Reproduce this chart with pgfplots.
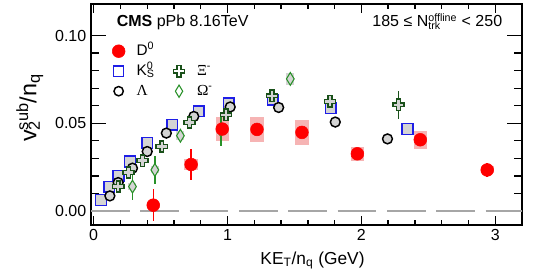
\documentclass[border=0pt]{standalone}
\usepackage{fontspec}
\setmainfont{Liberation Sans}
\newfontfamily\greekfont{Liberation Serif}
\usepackage{pgfplots}
\pgfplotsset{compat=1.18}

\definecolor{kblue}{RGB}{30,30,230}
\definecolor{xigreen}{RGB}{25,80,25}
\definecolor{omgreen}{RGB}{40,145,40}
\definecolor{sysgray}{RGB}{212,212,212}
\definecolor{dpink}{RGB}{246,180,180}

% open "plus" outline for the Xi points
\pgfdeclareplotmark{ocross}{%
  \pgfpathmoveto{\pgfqpoint{-0.34\pgfplotmarksize}{\pgfplotmarksize}}%
  \pgfpathlineto{\pgfqpoint{0.34\pgfplotmarksize}{\pgfplotmarksize}}%
  \pgfpathlineto{\pgfqpoint{0.34\pgfplotmarksize}{0.34\pgfplotmarksize}}%
  \pgfpathlineto{\pgfqpoint{\pgfplotmarksize}{0.34\pgfplotmarksize}}%
  \pgfpathlineto{\pgfqpoint{\pgfplotmarksize}{-0.34\pgfplotmarksize}}%
  \pgfpathlineto{\pgfqpoint{0.34\pgfplotmarksize}{-0.34\pgfplotmarksize}}%
  \pgfpathlineto{\pgfqpoint{0.34\pgfplotmarksize}{-\pgfplotmarksize}}%
  \pgfpathlineto{\pgfqpoint{-0.34\pgfplotmarksize}{-\pgfplotmarksize}}%
  \pgfpathlineto{\pgfqpoint{-0.34\pgfplotmarksize}{-0.34\pgfplotmarksize}}%
  \pgfpathlineto{\pgfqpoint{-\pgfplotmarksize}{-0.34\pgfplotmarksize}}%
  \pgfpathlineto{\pgfqpoint{-\pgfplotmarksize}{0.34\pgfplotmarksize}}%
  \pgfpathlineto{\pgfqpoint{-0.34\pgfplotmarksize}{0.34\pgfplotmarksize}}%
  \pgfpathclose\pgfusepathqfillstroke}

% x = KE_T/n_q, y = v2/n_q
\pgfplotstableread{
x y stat sys
0.445 0.0033 0.0090 0.0015
0.728 0.0265 0.0090 0.0030
0.960 0.0467 0.0020 0.0070
1.220 0.0465 0.0020 0.0070
1.556 0.0448 0.0020 0.0070
1.970 0.0326 0.0020 0.0040
2.440 0.0406 0.0020 0.0050
2.940 0.0234 0.0040 0.0020
}\dzero

\pgfplotstableread{
x y
0.054 0.0063
0.116 0.0139
0.185 0.0200
0.272 0.0282
0.400 0.0387
0.588 0.0491
0.785 0.0568
1.010 0.0615
1.337 0.0634
1.770 0.0587
2.345 0.0467
}\kshort

\pgfplotstableread{
x y
0.121 0.0086
0.183 0.0162
0.290 0.0244
0.400 0.0339
0.543 0.0444
0.748 0.0539
1.020 0.0593
1.382 0.0590
1.805 0.0507
2.195 0.0411
}\lambdatab

\pgfplotstableread{
x y stat
0.183 0.0139 0.001
0.260 0.0219 0.001
0.364 0.0287 0.001
0.509 0.0367 0.001
0.715 0.0505 0.001
0.989 0.0549 0.001
1.332 0.0657 0.001
1.765 0.0625 0.002
2.278 0.0606 0.008
}\xitab

\pgfplotstableread{
x y stat sys
0.290 0.0139 0.0075 0.0020
0.457 0.0234 0.0080 0.0020
0.648 0.0429 0.0020 0.0025
0.950 0.0460 0.0090 0.0025
1.469 0.0753 0.0020 0.0035
}\omegatab

\begin{document}
\begin{tikzpicture}
\useasboundingbox (-68.25pt,-38.25pt) rectangle (333pt,168.75pt);
\begin{axis}[
  scale only axis, width=323.25pt, height=165.75pt,
  at={(0pt,0pt)}, anchor=south west,
  xmin=-0.02, xmax=3.2, ymin=-0.008, ymax=0.118,
  xtick={0,1,2,3}, minor x tick num=4,
  ytick={0,0.05,0.1}, minor y tick num=4,
  yticklabel style={/pgf/number format/.cd, fixed, fixed zerofill, precision=2},
  /pgf/number format/assume math mode=true,
  tick align=inside, tick pos=both,
  major tick length=11pt, minor tick length=6pt,
  x tick style={/pgfplots/major tick length=7pt, /pgfplots/minor tick length=3.5pt},
  tick style={line width=1pt, black},
  axis line style={line width=1.2pt},
  tick label style={font=\fontsize{12}{14}\selectfont},
  xlabel={KE\textsubscript{T}/n\textsubscript{q} (GeV)},
  ylabel={v\rlap{\textsubscript{2}}\textsuperscript{sub}/n\textsubscript{q}},
  xlabel style={font=\fontsize{13}{15}\selectfont, xshift=4.5pt, yshift=-1pt},
  ylabel style={font=\fontsize{17.5}{19}\selectfont, at={(axis description cs:-0.142,0.53)}, anchor=center},
  legend columns=2,
  legend cell align=left,
  legend image code/.code={\path[draw=none, fill=none] (0pt,0pt) -- (20.5pt,0pt); \draw[#1] plot coordinates {(8.5pt,0pt)};},
  legend style={at={(rel axis cs:0.028,0.845)}, anchor=north west, draw=none, fill=none,
    font=\fontsize{11.5}{13}\selectfont, row sep=0pt,
    nodes={inner sep=1.5pt, text height=9pt, text depth=3pt},
    /tikz/every even column/.append style={column sep=8.25pt}},
]
% legend entries
\addlegendimage{only marks, mark=*, mark size=4.8pt, red, mark options={fill=red}}
\addlegendentry{D\textsuperscript{0}}
\addlegendimage{empty legend}
\addlegendentry{}
\addlegendimage{only marks, mark=square, mark size=3.8pt, kblue, mark options={line width=1.1pt}}
\addlegendentry{K\rlap{\textsuperscript{0}}\textsubscript{S}}
\addlegendimage{only marks, mark=ocross, mark size=4.2pt, xigreen, mark options={line width=1.1pt, fill=white}}
\addlegendentry{{\greekfont Ξ}\textsuperscript{-}}
\addlegendimage{only marks, mark=o, mark size=3.5pt, black, mark options={line width=1.1pt}}
\addlegendentry{{\greekfont Λ}}
\addlegendimage{only marks, mark=diamond, mark size=4.6pt, omgreen, mark options={line width=0.8pt, xscale=0.8}}
\addlegendentry{{\greekfont Ω}\textsuperscript{-}}

% zero line
\addplot[forget plot, gray!70, line width=1pt, dash pattern=on 29pt off 8pt] coordinates {(-0.02,0) (3.2,0)};

% D0 systematic boxes
\addplot[forget plot, only marks, mark=none,
  error bars/.cd, y dir=both, y explicit, error mark=none,
  error bar style={line width=10pt, draw=dpink}]
  table[x=x, y=y, y error=sys] {\dzero};

% Omega systematic boxes
\addplot[forget plot, only marks, mark=none,
  error bars/.cd, y dir=both, y explicit, error mark=none,
  error bar style={line width=6pt, draw=sysgray}]
  table[x=x, y=y, y error=sys] {\omegatab};

% K0S
\addplot[forget plot, only marks, mark=square*, mark size=4pt, kblue,
  mark options={line width=1.1pt, fill=sysgray}]
  table[x=x, y=y] {\kshort};

% Lambda
\addplot[forget plot, only marks, mark=*, mark size=3.7pt, black,
  mark options={line width=1.1pt, fill=sysgray}]
  table[x=x, y=y] {\lambdatab};

% Xi
\addplot[forget plot, only marks, mark=ocross, mark size=4.2pt, xigreen,
  mark options={line width=1.1pt, fill=sysgray},
  error bars/.cd, y dir=both, y explicit, error mark=none,
  error bar style={line width=1.1pt, draw=xigreen}]
  table[x=x, y=y, y error=stat] {\xitab};

% Omega
\addplot[forget plot, only marks, mark=diamond*, mark size=4.8pt, omgreen,
  mark options={line width=0.8pt, xscale=0.8, fill=sysgray},
  error bars/.cd, y dir=both, y explicit, error mark=none,
  error bar style={line width=1.1pt, draw=omgreen}]
  table[x=x, y=y, y error=stat] {\omegatab};

% D0
\addplot[forget plot, only marks, mark=*, mark size=4.8pt, red,
  mark options={fill=red},
  error bars/.cd, y dir=both, y explicit, error mark=none,
  error bar style={line width=1.1pt, draw=red}]
  table[x=x, y=y, y error=stat] {\dzero};

\node[anchor=base west, font=\fontsize{12}{14}\selectfont] at (rel axis cs:0.049,0.896)
  {\textbf{CMS} pPb 8.16TeV};
\node[anchor=base east, font=\fontsize{12}{14}\selectfont] at (rel axis cs:0.965,0.896)
  {185 ≤ N\rlap{\textsubscript{trk}}\textsuperscript{offline} < 250};
\end{axis}
\end{tikzpicture}
\end{document}
